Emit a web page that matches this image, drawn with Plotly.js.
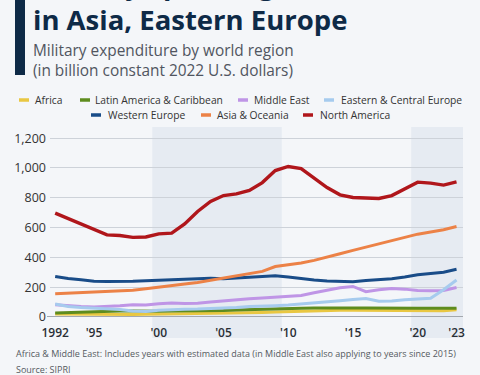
<!DOCTYPE html>
<html>
<head>
<meta charset="utf-8">
<script src="https://cdn.plot.ly/plotly-3.0.1.min.js"></script>
<style>
html,body{margin:0;padding:0;background:#f4f6f9;}
#chart{width:480px;height:375px;}
</style>
</head>
<body>
<div id="chart"></div>
<script>
const years = [1992,1993,1994,1995,1996,1997,1998,1999,2000,2001,2002,2003,2004,2005,2006,2007,2008,2009,2010,2011,2012,2013,2014,2015,2016,2017,2018,2019,2020,2021,2022,2023];
const africa = [20,19,18,17,16,16,17,19,20,20,21,22,23,24,26,28,31,34,37,41,42,45,46,45,44,43,43,43,44,43,42,48];
const latinAmerica = [27,30,34,40,40,41,40,38,39,41,41,40,42,44,47,50,53,56,58,59,60,62,62,61,60,61,60,60,59,58,58,59];
const middleEast = [82,75,70,67,70,75,82,80,89,94,90,92,100,109,118,122,128,134,138,145,163,178,196,205,170,183,192,187,178,176,178,198];
const easternEurope = [87,70,63,58,57,50,40,37,45,50,52,53,56,58,63,70,75,76,80,86,97,103,109,118,124,106,107,115,122,126,183,248];
const westernEurope = [272,258,250,240,238,238,240,244,248,250,252,257,260,257,262,266,272,277,268,256,248,241,237,237,245,251,257,268,283,292,301,320];
const asiaOceania = [156,160,163,168,172,176,179,189,198,210,221,232,246,263,276,290,306,339,348,362,380,400,424,447,469,491,511,536,556,570,585,607];
const northAmerica = [697,659,625,585,551,547,534,537,558,563,625,708,775,815,826,849,902,983,1010,996,935,869,820,802,799,795,815,860,905,898,885,907];

const seriesNames = ["Africa","Latin America & Caribbean","Middle East","Eastern & Central Europe","Western Europe","Asia & Oceania","North America"];
const seriesData = [africa, latinAmerica, middleEast, easternEurope, westernEurope, asiaOceania, northAmerica];
const seriesColors = ["#e9c742","#5e8c1f","#bf95e6","#a6cbee","#194c88","#ec8247","#b0161b"];
const seriesWidths = [3,3,3,3,3,3,3.4];

const xTickVals = [1992,1995,2000,2005,2010,2015,2020,2023];
const xTickText = ["1992","'95","'00","'05","'10","'15","'20","'23"];
const yTickVals = [0,200,400,600,800,1000,1200];

const L = 50, R = 463, T = 127, B = 317;
const px = p => (p - L) / (R - L);
const py = p => (B - p) / (B - T);

const FONT = "Open Sans, sans-serif";

const traces = seriesNames.map((n, i) => ({
  type: "scatter", mode: "lines", name: n,
  x: years, y: seriesData[i],
  line: {color: seriesColors[i], width: seriesWidths[i]},
  showlegend: false, hoverinfo: "x+y+name"
}));

const shapes = [
  {type:"rect", xref:"x", yref:"paper", x0:1999.5, x1:2009.5, y0:py(338), y1:1, fillcolor:"#e6ebf2", line:{width:0}, layer:"below"},
  {type:"rect", xref:"x", yref:"paper", x0:2019.5, x1:2023.5, y0:py(338), y1:1, fillcolor:"#e6ebf2", line:{width:0}, layer:"below"},
  {type:"line", xref:"paper", yref:"y", x0:px(47), x1:1, y0:0, y1:0, line:{color:"#a3a8ae", width:2}, layer:"above"},
  {type:"rect", xref:"paper", yref:"paper", x0:px(15), x1:px(25), y0:py(75), y1:py(-5), fillcolor:"#0e2a47", line:{width:0}}
];

// manual legend
const legendItems = [
  {i:0, sx:19, tx:33, y:100},
  {i:1, sx:80, tx:92.5, y:100},
  {i:2, sx:238, tx:251.5, y:100},
  {i:3, sx:324, tx:339, y:100},
  {i:4, sx:91, tx:106, y:115},
  {i:5, sx:201, tx:215, y:115},
  {i:6, sx:303, tx:318, y:115}
];
const annotations = [];
legendItems.forEach(it => {
  shapes.push({type:"line", xref:"paper", yref:"paper", x0:px(it.sx), x1:px(it.sx+10), y0:py(it.y), y1:py(it.y), line:{color:seriesColors[it.i], width:3.5}});
  annotations.push({xref:"paper", yref:"paper", x:px(it.tx), y:py(it.y), xanchor:"left", yanchor:"middle", showarrow:false,
    text:seriesNames[it.i], font:{family:FONT, size:10.3, color:"#333333"}});
});

annotations.push(
  {xref:"paper", yref:"paper", x:px(31), y:py(-15), xanchor:"left", yanchor:"middle", showarrow:false,
   text:"<b>Military Spending Soars</b>", font:{family:FONT, size:27.5, color:"#0e2a47"}},
  {xref:"paper", yref:"paper", x:px(31), y:py(19), xanchor:"left", yanchor:"middle", showarrow:false,
   text:"<b>in Asia, Eastern Europe</b>", font:{family:FONT, size:27.5, color:"#0e2a47"}},
  {xref:"paper", yref:"paper", x:px(31), y:py(60), xanchor:"left", yanchor:"middle", align:"left", showarrow:false,
   text:"Military expenditure by world region<br>(in billion constant 2022 U.S. dollars)", font:{family:FONT, size:15.4, color:"#505560"}},
  {xref:"paper", yref:"paper", x:px(14), y:py(353), xanchor:"left", yanchor:"middle", showarrow:false,
   text:"Africa & Middle East: Includes years with estimated data (in Middle East also applying to years since 2015)", font:{family:FONT, size:9, color:"#555a60"}},
  {xref:"paper", yref:"paper", x:px(14), y:py(369), xanchor:"left", yanchor:"middle", showarrow:false,
   text:"Source: SIPRI", font:{family:FONT, size:9, color:"#555a60"}}
);

const layout = {
  width:480, height:375,
  margin:{l:L, r:480-R, t:T, b:375-B, pad:0},
  paper_bgcolor:"#f4f6f9", plot_bgcolor:"#f4f6f9",
  showlegend:false,
  xaxis:{range:[1991.6, 2023.5], tickvals:xTickVals, ticktext:xTickText, showgrid:false, zeroline:false, showline:false,
         ticks:"", ticklabelstandoff:7, tickfont:{family:FONT, size:12, color:"#2a2f36", weight:600}},
  yaxis:{range:[0,1275], tickvals:yTickVals, tickformat:",", showgrid:true, gridcolor:"#cdd2d9", gridwidth:1, zeroline:false,
         showline:false, ticks:"", ticklabelstandoff:3, tickfont:{family:FONT, size:12.5, color:"#333333"}},
  shapes:shapes, annotations:annotations
};

Plotly.newPlot("chart", traces, layout, {displayModeBar:false, staticPlot:true});
</script>
</body>
</html>
